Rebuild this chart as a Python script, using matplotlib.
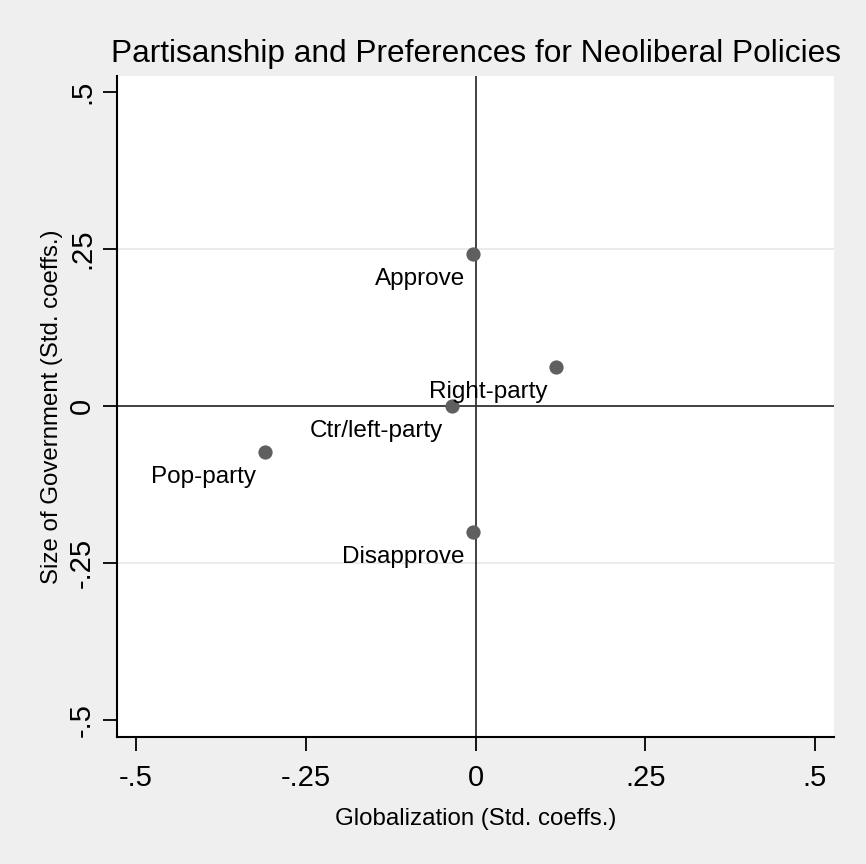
import matplotlib
matplotlib.use("Agg")
import matplotlib.pyplot as plt

plt.rcParams['font.family'] = ['Liberation Sans', 'DejaVu Sans']

labels = ["Approve", "Right-party", "Ctr/left-party", "Pop-party", "Disapprove"]
glob = [-0.003, 0.119, -0.035, -0.310, -0.003]
govt = [0.242, 0.062, 0.000, -0.073, -0.201]
ticks = [-0.5, -0.25, 0, 0.25, 0.5]
ticklabels = ["-.5", "-.25", "0", ".25", ".5"]

bg = "#efefef"
fig = plt.figure(figsize=(8.66, 8.64), dpi=100, facecolor=bg)
ax = fig.add_axes([117/866, 1-737/864, (834-117)/866, (737-76)/864])
ax.set_facecolor("white")
ax.set_xlim(-0.528, 0.528)
ax.set_ylim(-0.527, 0.525)

for g in [-0.25, 0.25]:
    ax.axhline(g, color="#e8e8e8", lw=1.2, zorder=1)
ax.axhline(0, color="#333333", lw=1.3, zorder=2)
ax.axvline(0, color="#333333", lw=1.3, zorder=2)

ax.scatter(glob, govt, s=105, color="#5f5f5f", zorder=3, linewidths=0)
for x, y, t in zip(glob, govt, labels):
    ax.annotate(t, (x, y), xytext=(-6.2, -22.3), textcoords="offset points",
                ha="right", va="baseline", fontsize=17.5, color="black")

for s in ["top", "right"]:
    ax.spines[s].set_visible(False)
for s in ["left", "bottom"]:
    ax.spines[s].set_linewidth(1.5)
    ax.spines[s].set_color("black")

ax.set_xticks(ticks)
ax.set_xticklabels(ticklabels)
ax.set_yticks(ticks)
ax.set_yticklabels(ticklabels, rotation=90, va="center")
ax.tick_params(axis="both", length=10, width=1.3, labelsize=21)
ax.tick_params(axis="x", pad=9.5)
ax.tick_params(axis="y", pad=5)

ax.set_xlabel("Globalization (Std. coeffs.)", fontsize=17.3, labelpad=11.5)
ax.set_ylabel("Size of Government (Std. coeffs.)", fontsize=17.3, labelpad=4)
ax.set_title("Partisanship and Preferences for Neoliberal Policies", fontsize=22.8, pad=10)

fig.savefig("out.png", dpi=100, facecolor=bg)
